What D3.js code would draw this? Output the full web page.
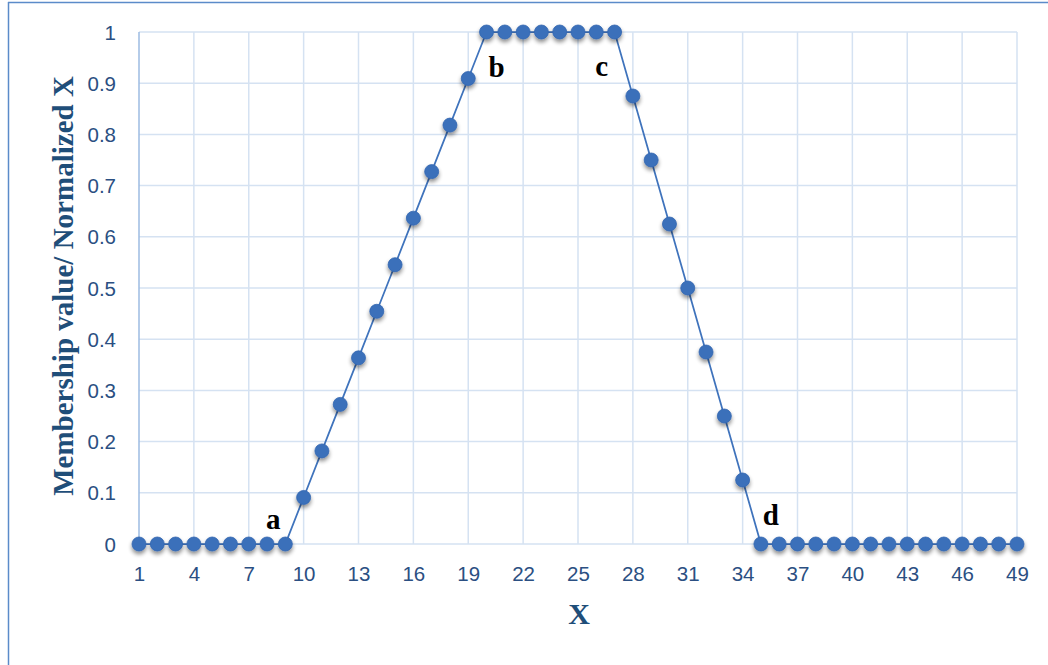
<!DOCTYPE html>
<html><head><meta charset="utf-8">
<script src="https://cdn.jsdelivr.net/npm/d3@7"></script>
<style>
html,body{margin:0;padding:0;background:#fff;}
svg{display:block;}
</style></head>
<body>
<svg id="chart" width="1048" height="665"></svg>
<script>
const xValues = [1,2,3,4,5,6,7,8,9,10,11,12,13,14,15,16,17,18,19,20,21,22,23,24,25,26,27,28,29,30,31,32,33,34,35,36,37,38,39,40,41,42,43,44,45,46,47,48,49];
const membership = [0,0,0,0,0,0,0,0,0,0.0909,0.1818,0.2727,0.3636,0.4545,0.5455,0.6364,0.7273,0.8182,0.9091,1,1,1,1,1,1,1,1,0.875,0.75,0.625,0.5,0.375,0.25,0.125,0,0,0,0,0,0,0,0,0,0,0,0,0,0,0];
const xTicks = [1,4,7,10,13,16,19,22,25,28,31,34,37,40,43,46,49];
const yTicks = [0,0.1,0.2,0.3,0.4,0.5,0.6,0.7,0.8,0.9,1];
const annotations = [
  {label:"a", x:9, y:0},
  {label:"b", x:20, y:1},
  {label:"c", x:27, y:1},
  {label:"d", x:35, y:0}
];
const annotOffsets = {a:[-12,-15], b:[10,45], c:[-13,44], d:[10,-19]};

(function(){
const svg = d3.select("#chart");
const pL = 139, pR = 1017, pT = 32, pB = 544;
const x = d3.scaleLinear().domain([1,49]).range([pL,pR]);
const y = d3.scaleLinear().domain([0,1]).range([pB,pT]);

const defs = svg.append("defs");
const f = defs.append("filter").attr("id","shadow").attr("x","-50%").attr("y","-50%").attr("width","200%").attr("height","250%");
f.append("feGaussianBlur").attr("in","SourceAlpha").attr("stdDeviation",2.2);
f.append("feOffset").attr("dx",0).attr("dy",3).attr("result","ob");
f.append("feComponentTransfer").append("feFuncA").attr("type","linear").attr("slope",0.45);
const fm = f.append("feMerge"); fm.append("feMergeNode"); fm.append("feMergeNode").attr("in","SourceGraphic");

svg.append("line").attr("x1",8).attr("x2",1048).attr("y1",2.5).attr("y2",2.5).attr("stroke","#5B8BC9").attr("stroke-width",1.5);
svg.append("line").attr("x1",8.5).attr("x2",8.5).attr("y1",2).attr("y2",665).attr("stroke","#5B8BC9").attr("stroke-width",1.5);

const grid = svg.append("g");
grid.selectAll(".hg").data(yTicks).join("line")
  .attr("x1",pL).attr("x2",pR).attr("y1",d=>y(d)).attr("y2",d=>y(d))
  .attr("stroke","#D5E2F2").attr("stroke-width",1.5);
grid.selectAll(".vg").data(xTicks).join("line")
  .attr("x1",d=>x(d)).attr("x2",d=>x(d)).attr("y1",pT).attr("y2",pB)
  .attr("stroke",d=>d===1?"#9DBBE2":"#D5E2F2").attr("stroke-width",1.5);

const tickColor = "#2B4F82";
const yAxis = d3.axisLeft(y).tickValues(yTicks).tickSize(0).tickPadding(0).tickFormat(d=>d3.format("")(d));
const ya = svg.append("g").attr("transform",`translate(${pL-23},0)`).call(yAxis);
ya.select(".domain").remove();
ya.selectAll("text").attr("font-family","Liberation Sans, Arial, sans-serif").attr("font-size",20.5).attr("fill",tickColor).attr("dy","0.35em");

const xAxis = d3.axisBottom(x).tickValues(xTicks).tickSize(0).tickPadding(0);
const xa = svg.append("g").attr("transform",`translate(0,${pB+22})`).call(xAxis);
xa.select(".domain").remove();
xa.selectAll("text").attr("font-family","Liberation Sans, Arial, sans-serif").attr("font-size",20.5).attr("fill",tickColor).attr("dy","0.71em");

svg.append("text").attr("transform",`translate(73,286) rotate(-90)`)
  .attr("text-anchor","middle").attr("font-family","Liberation Serif, Times New Roman, serif")
  .attr("font-weight","bold").attr("font-size",29).attr("fill","#1F4E79")
  .text("Membership value/ Normalized X");
svg.append("text").attr("x",579).attr("y",624).attr("text-anchor","middle")
  .attr("font-family","Liberation Serif, Times New Roman, serif").attr("font-weight","bold")
  .attr("font-size",30).attr("fill","#1F4E79").text("X");

const pts = xValues.map((v,i)=>({x:v,y:membership[i]}));
svg.append("path").datum(pts)
  .attr("fill","none").attr("stroke","#3F73BC").attr("stroke-width",1.75)
  .attr("d",d3.line().x(d=>x(d.x)).y(d=>y(d.y)));
svg.append("g").attr("filter","url(#shadow)").selectAll("circle").data(pts).join("circle")
  .attr("cx",d=>x(d.x)).attr("cy",d=>y(d.y)).attr("r",7)
  .attr("fill","#3A70BA").attr("stroke","#3366B0").attr("stroke-width",0.8);

svg.append("g").selectAll("text").data(annotations).join("text")
  .attr("x",d=>x(d.x)+annotOffsets[d.label][0]).attr("y",d=>y(d.y)+annotOffsets[d.label][1])
  .attr("text-anchor","middle").attr("font-family","Liberation Serif, Times New Roman, serif")
  .attr("font-weight","bold").attr("font-size",29).attr("fill","#000").text(d=>d.label);
})();
</script>
</body></html>
